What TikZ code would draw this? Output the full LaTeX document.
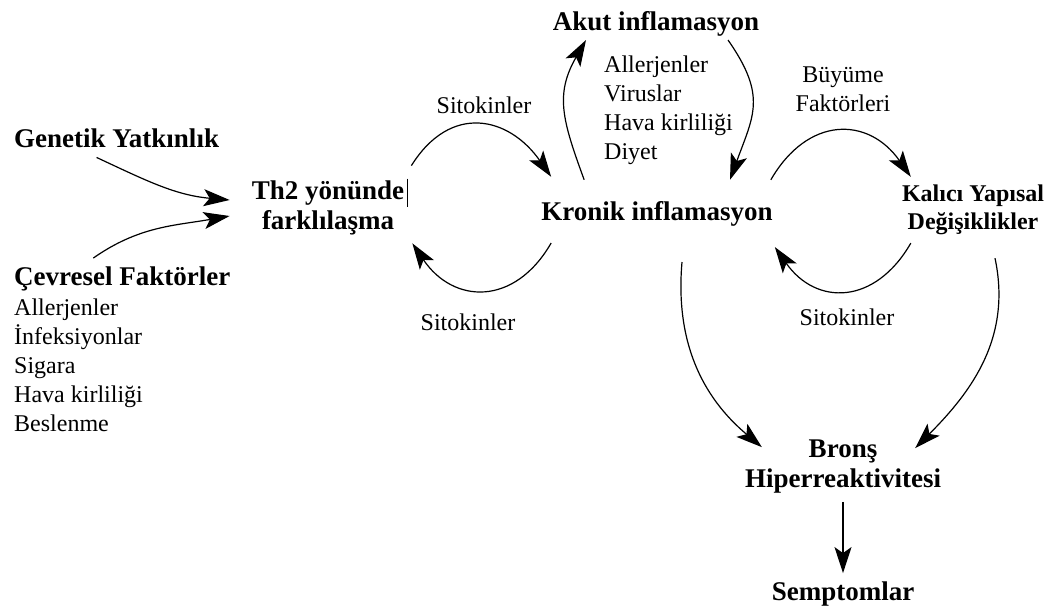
\documentclass[tikz,border=0pt]{standalone}
\usepackage{fontspec}
\setmainfont{Liberation Serif}
\usetikzlibrary{arrows.meta}

\tikzset{
	baslik/.style={font=\fontsize{27}{30}\selectfont\bfseries, inner sep=2pt, align=center},
	altbaslik/.style={font=\fontsize{24}{28}\selectfont\bfseries, inner sep=2pt, align=center},
	metin/.style={font=\fontsize{24}{29}\selectfont, inner sep=2pt},
	ok/.style={-{Stealth[length=26pt,width=17pt,inset=6pt]}, line width=1.2pt},
}

\begin{document}
\begin{tikzpicture}[x=1pt,y=1pt]
	\useasboundingbox (0,0) rectangle (1057,-613);
	% sol taraf
	\node [baslik, anchor=base west] (genetik) at (12,-147) {Genetik Yatkınlık};
	\node [baslik, anchor=base west] (cevresel) at (12,-285) {Çevresel Faktörler};
	\node [metin, anchor=north west, align=left] (cevreliste) at (12,-297) {Allerjenler\\İnfeksiyonlar\\Sigara\\Hava kirliliği\\Beslenme};
	\node [baslik] (th2) at (328,-208) {Th2 yönünde\\farklılaşma};
	% orta
	\node [baslik, anchor=base] (akut) at (656,-30) {Akut inflamasyon};
	\node [metin, anchor=north west, align=left] (akutliste) at (602,-54) {Allerjenler\\Viruslar\\Hava kirliliği\\Diyet};
	\node [baslik, anchor=base] (kronik) at (657,-220) {Kronik inflamasyon};
	\node [metin, anchor=base] (sitokin1) at (484,-113) {Sitokinler};
	\node [metin, anchor=base] (sitokin2) at (468,-330) {Sitokinler};
	% sag taraf
	\node [metin, align=center] (buyume) at (843,-89) {Büyüme\\Faktörleri};
	\node [altbaslik] (kalici) at (973,-210) {Kalıcı Yapısal\\Değişiklikler};
	\node [metin, anchor=base] (sitokin3) at (847,-325) {Sitokinler};
	\node [baslik] (bronsh) at (843,-467) {Bronş\\Hiperreaktivitesi};
	\node [baslik, anchor=base] (semptom) at (843,-600) {Semptomlar};

	\draw [ok] ([shift={(-20,-8)}]genetik.south) to[out=-25,in=175] ([shift={(-20,8)}]th2.west);
	\draw [ok] ([shift={(-29,6)}]cevresel.north) to[out=35,in=190] ([shift={(-20,-8)}]th2.west);
	\draw [line width=1.2pt] ([xshift=1pt]th2.north east) -- ++(0,-28);
	\draw [ok] ([shift={(5,13)}]th2.north east) to[out=58,in=125,looseness=1.35] ([shift={(12,22)}]kronik.north west);
	\draw [ok] ([shift={(12,-15)}]kronik.south west) to[out=-120,in=-56,looseness=1.35] ([shift={(6,-6)}]th2.south east);
	\draw [ok] ([shift={(45,19)}]kronik.north west) to[out=110,in=-120,looseness=1.15] ([shift={(-70,-2)}]akut.south);
	\draw [ok] ([shift={(72,-2)}]akut.south) to[out=-55,in=70,looseness=1.25] ([shift={(73,19)}]kronik.north);
	\draw [ok] ([shift={(-4,19)}]kronik.north east) to[out=60,in=125,looseness=1.35] ([shift={(11,6)}]kalici.north west);
	\draw [ok] ([shift={(11,-6)}]kalici.south west) to[out=-120,in=-55,looseness=1.35] ([shift={(0,-19)}]kronik.south east);
	\draw [ok] ([shift={(25,-34)}]kronik.south) to[out=-95,in=140] ([shift={(19,-9)}]bronsh.north west);
	\draw [ok] ([shift={(22,-21)}]kalici.south) to[out=-78,in=45] ([shift={(-28,-10)}]bronsh.north east);
	\draw [ok, shorten <=6pt, shorten >=6pt] (bronsh) -- (semptom);
\end{tikzpicture}
\end{document}
